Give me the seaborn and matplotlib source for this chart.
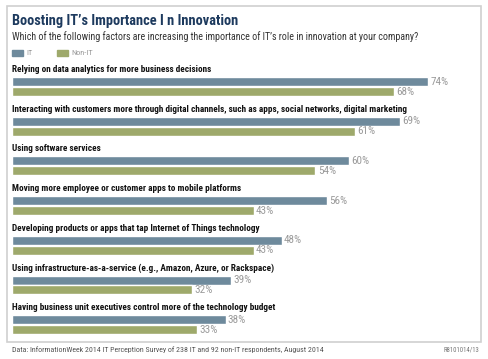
import matplotlib.pyplot as plt
import pandas as pd
import seaborn as sns
from matplotlib.patches import Rectangle
from matplotlib import font_manager

# data
factors = [
    "Relying on data analytics for more business decisions",
    "Interacting with customers more through digital channels, such as apps, social networks, digital marketing",
    "Using software services",
    "Moving more employee or customer apps to mobile platforms",
    "Developing products or apps that tap Internet of Things technology",
    "Using infrastructure-as-a-service (e.g., Amazon, Azure, or Rackspace)",
    "Having business unit executives control more of the technology budget",
]
it_values = [74, 69, 60, 56, 48, 39, 38]
non_it_values = [68, 61, 54, 43, 43, 32, 33]
groups = ["IT", "Non-IT"]
colors = ["#6e8a9c", "#9ea96b"]

df = pd.DataFrame({
    "factor": factors * 2,
    "group": [groups[0]] * len(factors) + [groups[1]] * len(factors),
    "value": it_values + non_it_values,
})

sns.set_style("white")
names = {f.name for f in font_manager.fontManager.ttflist}
narrow = "DejaVu Sans"
for cand in ["Roboto Condensed", "Fira Sans Condensed", "PT Sans Narrow",
             "Open Sans Condensed", "Archivo Narrow", "Encode Sans Condensed"]:
    if cand in names:
        narrow = cand
        break
plt.rcParams["font.family"] = [narrow, "DejaVu Sans"]
plt.rcParams["font.stretch"] = "condensed"

W, H = 489, 359
fig = plt.figure(figsize=(W / 100, H / 100), dpi=100)
renderer = fig.canvas.get_renderer()


def fit(t, target_px):
    # scale the font so the text spans the same width as in the reference
    w = t.get_window_extent(renderer=renderer).width
    t.set_fontsize(t.get_fontsize() * target_px / w)
    return t.get_fontsize()


# outer frame
fig.add_artist(Rectangle((7 / W, 1 - 342 / H), (481 - 7) / W, (342 - 6) / H,
                         transform=fig.transFigure, fill=False,
                         edgecolor="#d0d0d0", linewidth=1.2))

# bar axes: 0% at x=12px, ~5.62px per %
left, right = 12, 482
top, bottom = 60, 340
ax = fig.add_axes([left / W, 1 - bottom / H, (right - left) / W, (bottom - top) / H])
sns.barplot(data=df, y="factor", x="value", hue="group", palette=colors,
            orient="h", width=0.5, gap=0.1, ax=ax, legend=False, saturation=1)
ax.set_xlim(0, (right - left) / 5.62)
step = 39.7
ax.set_ylim((bottom - 86.5) / step, (top - 86.5) / step)
ax.axis("off")

# the reference font is narrower than ours, so allow a little extra width
probe = ax.text(0, 0, factors[1], fontsize=7, fontweight="bold")
cat_size = fit(probe, 400)
probe.remove()
probe = ax.text(0, 0, "74%", fontsize=7)
val_size = fit(probe, 18)
probe.remove()

for i, name in enumerate(factors):
    ax.text(0, i - 0.43, name, fontsize=cat_size, fontweight="bold",
            color="#111111", va="center", ha="left")
    ax.text(it_values[i] + 0.4, i - 0.125, f"{it_values[i]}%", fontsize=val_size,
            color="#9a9a9a", va="center", ha="left")
    ax.text(non_it_values[i] + 0.4, i + 0.13, f"{non_it_values[i]}%", fontsize=val_size,
            color="#9a9a9a", va="center", ha="left")

# titles
t = fig.text(12 / W, 1 - 21 / H, "Boosting IT\u2019s Importance I n Innovation", fontsize=10,
             fontweight="bold", color="#1d3a5e", va="center")
fit(t, 227)
t = fig.text(12 / W, 1 - 37 / H,
             "Which of the following factors are increasing the importance of IT\u2019s role in innovation at your company?",
             fontsize=6.5, color="#333333", va="center")
fit(t, 406)

# legend
for x0, lab in [(12, groups[0]), (57, groups[1])]:
    c = colors[groups.index(lab)]
    fig.add_artist(Rectangle((x0 / W, 1 - 56 / H), 11 / W, 6 / H,
                             transform=fig.transFigure, color=c))
    fig.text((x0 + 14) / W, 1 - 53 / H, lab, fontsize=val_size * 0.75,
             color="#9a9a9a", va="center")

# footer
t = fig.text(12 / W, 1 - 350 / H,
             "Data: InformationWeek 2014 IT Perception Survey of 238 IT and 92 non-IT respondents, August 2014",
             fontsize=5.4, color="#555555", va="center")
fit(t, 313)
fig.text(479 / W, 1 - 350 / H, "R8101014/13", fontsize=t.get_fontsize() * 0.85,
         color="#777777", va="center", ha="right")

fig.savefig("out.png", dpi=100)
